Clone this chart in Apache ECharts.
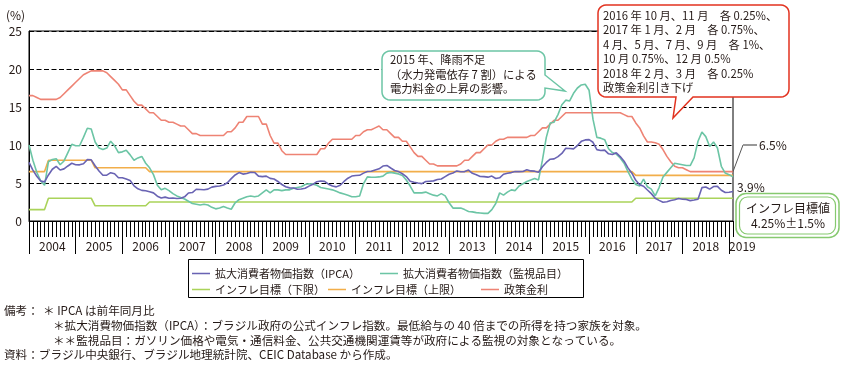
<!DOCTYPE html>
<html><head><meta charset="utf-8">
<script src="https://cdn.jsdelivr.net/npm/echarts@6/dist/echarts.min.js"></script>
<style>html,body{margin:0;padding:0;background:#fff}#c{width:845px;height:367px}</style>
</head><body><div id="c"></div>
<script>
const FONT = '"Noto Sans CJK JP", "Noto Sans", sans-serif';
const TXT = '#231815';

// Tick labels (years) and monthly categories (Jan 2004 .. Feb 2019)
const years = ['2004','2005','2006','2007','2008','2009','2010','2011','2012','2013','2014','2015','2016','2017','2018','2019'];
const lastMonth = '2019-02';
const months = [];
for (const y of years) { for (let m = 1; m <= 12; m++) { const k = y + '-' + String(m).padStart(2, '0'); if (k <= lastMonth) months.push(k); } }

// Series values (%, y/y), one line per year
const ipca = [
  7.71,6.69,5.89,5.26,5.15,6.06,6.81,7.18,6.71,6.86,7.24,7.60,
  7.41,7.39,7.54,8.07,8.05,7.27,6.57,6.02,6.04,6.36,6.22,5.69,
  5.70,5.51,5.32,4.63,4.23,4.03,3.97,3.84,3.70,3.26,3.02,3.14,
  2.99,3.02,2.96,3.00,3.18,3.69,3.74,4.18,4.15,4.12,4.19,4.46,
  4.56,4.61,4.73,5.04,5.58,6.06,6.37,6.17,6.25,6.41,6.39,5.90,
  5.84,5.90,5.61,5.53,5.20,4.80,4.50,4.36,4.34,4.17,4.22,4.31,
  4.59,4.83,5.17,5.26,5.22,4.84,4.60,4.49,4.70,5.20,5.63,5.91,
  5.99,6.01,6.30,6.51,6.55,6.71,6.87,7.23,7.31,6.97,6.64,6.50,
  6.22,5.85,5.24,5.10,4.99,4.92,5.20,5.24,5.28,5.45,5.53,5.84,
  6.15,6.31,6.59,6.49,6.50,6.70,6.27,6.09,5.86,5.84,5.77,5.91,
  5.59,5.68,6.15,6.28,6.37,6.52,6.50,6.51,6.75,6.59,6.56,6.41,
  7.14,7.70,8.13,8.17,8.47,8.89,9.56,9.53,9.49,9.93,10.48,10.67,
  10.71,10.36,9.39,9.28,9.32,8.84,8.74,8.97,8.48,7.87,6.99,6.29,
  5.35,4.76,4.57,4.08,3.60,3.00,2.71,2.46,2.54,2.70,2.80,2.95,
  2.86,2.84,2.68,2.76,2.86,4.39,4.48,4.19,4.53,4.56,4.05,3.75,
  3.78,3.89
];
const monitored = [
  10.0,8.0,6.4,5.3,4.7,7.8,8.1,8.2,7.4,7.9,9.0,10.1,
  9.9,9.9,11.0,12.2,12.1,10.4,9.6,9.4,9.6,10.5,9.9,9.0,
  9.1,9.3,8.7,8.0,8.3,8.5,7.6,7.0,6.1,4.7,4.1,4.3,
  4.0,3.6,3.3,3.1,2.9,2.6,2.3,2.2,2.1,2.2,2.1,1.8,
  1.6,1.7,1.9,1.7,1.55,2.4,2.8,3.0,3.2,3.3,3.2,3.3,
  3.7,4.1,3.7,4.1,4.1,4.0,4.1,4.1,4.3,4.4,4.5,4.8,
  4.9,4.85,4.7,4.4,4.3,4.2,4.1,3.9,3.7,3.55,3.4,3.2,
  3.2,3.3,4.9,5.8,5.75,5.75,5.8,5.9,6.3,6.4,6.3,6.2,
  6.0,5.4,4.6,3.7,3.7,3.7,3.8,3.6,3.4,3.3,3.6,3.3,
  2.4,1.7,1.7,1.7,1.5,1.25,1.2,1.1,1.05,1.0,1.0,1.5,
  2.3,3.7,3.4,3.8,4.1,4.0,4.6,4.9,5.2,5.4,5.6,5.4,
  8.0,11.0,12.9,13.0,14.0,15.3,15.9,15.8,16.8,17.5,17.9,18.0,
  17.2,13.4,11.0,10.9,10.7,9.5,9.0,8.8,8.3,7.6,6.5,5.5,
  4.8,4.6,5.5,4.5,4.2,3.3,4.4,5.8,6.4,7.0,7.6,7.5,
  7.4,7.3,7.3,8.3,10.5,11.7,11.1,9.8,10.4,9.6,7.2,6.3,
  6.1,5.8
];
const targetLow = [
  1.5,1.5,1.5,1.5,1.5,3,3,3,3,3,3,3,
  3,3,3,3,3,2,2,2,2,2,2,2,
  2,2,2,2,2,2,2,2.5,2.5,2.5,2.5,2.5,
  2.5,2.5,2.5,2.5,2.5,2.5,2.5,2.5,2.5,2.5,2.5,2.5,
  2.5,2.5,2.5,2.5,2.5,2.5,2.5,2.5,2.5,2.5,2.5,2.5,
  2.5,2.5,2.5,2.5,2.5,2.5,2.5,2.5,2.5,2.5,2.5,2.5,
  2.5,2.5,2.5,2.5,2.5,2.5,2.5,2.5,2.5,2.5,2.5,2.5,
  2.5,2.5,2.5,2.5,2.5,2.5,2.5,2.5,2.5,2.5,2.5,2.5,
  2.5,2.5,2.5,2.5,2.5,2.5,2.5,2.5,2.5,2.5,2.5,2.5,
  2.5,2.5,2.5,2.5,2.5,2.5,2.5,2.5,2.5,2.5,2.5,2.5,
  2.5,2.5,2.5,2.5,2.5,2.5,2.5,2.5,2.5,2.5,2.5,2.5,
  2.5,2.5,2.5,2.5,2.5,2.5,2.5,2.5,2.5,2.5,2.5,2.5,
  2.5,2.5,2.5,2.5,2.5,2.5,2.5,2.5,2.5,2.5,2.5,2.5,
  3,3,3,3,3,3,3,3,3,3,3,3,
  3,3,3,3,3,3,3,3,3,3,3,3,
  3,3
];
const targetHigh = [
  6.5,6.5,6.5,6.5,6.5,8,8,8,8,8,8,8,
  8,8,8,8,8,7,7,7,7,7,7,7,
  7,7,7,7,7,7,7,6.5,6.5,6.5,6.5,6.5,
  6.5,6.5,6.5,6.5,6.5,6.5,6.5,6.5,6.5,6.5,6.5,6.5,
  6.5,6.5,6.5,6.5,6.5,6.5,6.5,6.5,6.5,6.5,6.5,6.5,
  6.5,6.5,6.5,6.5,6.5,6.5,6.5,6.5,6.5,6.5,6.5,6.5,
  6.5,6.5,6.5,6.5,6.5,6.5,6.5,6.5,6.5,6.5,6.5,6.5,
  6.5,6.5,6.5,6.5,6.5,6.5,6.5,6.5,6.5,6.5,6.5,6.5,
  6.5,6.5,6.5,6.5,6.5,6.5,6.5,6.5,6.5,6.5,6.5,6.5,
  6.5,6.5,6.5,6.5,6.5,6.5,6.5,6.5,6.5,6.5,6.5,6.5,
  6.5,6.5,6.5,6.5,6.5,6.5,6.5,6.5,6.5,6.5,6.5,6.5,
  6.5,6.5,6.5,6.5,6.5,6.5,6.5,6.5,6.5,6.5,6.5,6.5,
  6.5,6.5,6.5,6.5,6.5,6.5,6.5,6.5,6.5,6.5,6.5,6.5,
  6,6,6,6,6,6,6,6,6,6,6,6,
  6,6,6,6,6,6,6,6,6,6,6,6,
  6,6
];
const selic = [
  16.5,16.5,16.25,16,16,16,16,16,16.25,16.75,17.25,17.75,
  18.25,18.75,19.25,19.5,19.75,19.75,19.75,19.75,19.5,19,18.5,18,
  17.25,17.25,16.5,15.75,15.25,15.25,14.75,14.25,14.25,13.75,13.25,13.25,
  13,13,12.75,12.5,12.5,12,11.5,11.5,11.25,11.25,11.25,11.25,
  11.25,11.25,11.25,11.75,11.75,12.25,13,13,13.75,13.75,13.75,13.75,
  12.75,12.75,11.25,10.25,10.25,9.25,8.75,8.75,8.75,8.75,8.75,8.75,
  8.75,8.75,8.75,9.5,9.5,10.25,10.75,10.75,10.75,10.75,10.75,10.75,
  11.25,11.25,11.75,12,12,12.25,12.5,12,12,11.5,11,11,
  10.5,10.5,9.75,9,8.5,8.5,8,7.5,7.5,7.25,7.25,7.25,
  7.25,7.25,7.25,7.5,8,8,8.5,9,9,9.5,10,10,
  10.5,10.75,10.75,11,11,11,11,11,11,11.25,11.25,11.75,
  12.25,12.25,12.75,13.25,13.25,13.75,14.25,14.25,14.25,14.25,14.25,14.25,
  14.25,14.25,14.25,14.25,14.25,14.25,14.25,14.25,14.25,14,13.75,13.75,
  12.9,12.25,11.2,10.4,10.4,10.3,10.1,9.4,8.5,7.8,7.2,7.0,
  7.0,6.75,6.5,6.5,6.5,6.5,6.5,6.5,6.5,6.5,6.5,6.5,
  6.5,6.5
];
const yTicks = [0, 5, 10, 15, 20, 25];

const N_IPCA = '拡大消費者物価指数（IPCA）';
const N_MON = '拡大消費者物価指数（監視品目）';
const N_LOW = 'インフレ目標（下限）';
const N_UP = 'インフレ目標（上限）';
const N_SEL = '政策金利';
const C_IPCA = '#6963b3', C_MON = '#6cc5a5', C_LOW = '#aad35a', C_UP = '#f2ae4a', C_SEL = '#ee8374';

const chart = echarts.init(document.getElementById('c'), null, { renderer: 'canvas' });

const lineSeries = (name, data, color, z) => ({
  name, type: 'line', data, xAxisIndex: 0, yAxisIndex: 0,
  symbol: 'none', showSymbol: false, smooth: false, z,
  lineStyle: { color, width: 1.6 }, itemStyle: { color },
  emphasis: { disabled: true }, silent: true
});

const legendItem = (name, left, top) => ({
  data: [name], left, top, padding: 0, itemWidth: 18, itemHeight: 8,
  icon: 'path://M0,0H20V1.7H0Z', selectedMode: false,
  textStyle: { fontSize: 11, color: TXT, fontFamily: FONT }
});

const labelData = months.map((m, i) => i === 180 ? { value: m, textStyle: { align: 'left' } } : m);

const noteStyle = { fontSize: 11.6, fill: TXT, fontFamily: FONT, verticalAlign: 'middle' };

chart.setOption({
  animation: false,
  textStyle: { fontFamily: FONT },
  grid: { left: 29, right: 112, top: 31, bottom: 146, show: true, borderColor: '#000', borderWidth: 1, backgroundColor: 'transparent' },
  xAxis: [
    { type: 'category', data: months, boundaryGap: false, position: 'bottom', offset: 0,
      axisLine: { show: true, lineStyle: { color: '#000', width: 1 } },
      axisTick: { show: true, interval: 0, length: 16, lineStyle: { color: '#000', width: 1 } },
      axisLabel: { show: false }, splitLine: { show: false } },
    { type: 'category', data: labelData, boundaryGap: false, position: 'bottom', offset: 0,
      axisLine: { show: false },
      axisTick: { show: true, interval: (i) => i % 12 === 0, length: 33, lineStyle: { color: '#000', width: 1 } },
      axisLabel: { show: true, interval: (i) => i % 12 === 6 || i === 180, formatter: (v) => v.slice(0, 4),
        fontSize: 12, color: TXT, margin: 19, fontFamily: FONT },
      splitLine: { show: false } }
  ],
  yAxis: {
    type: 'value', min: yTicks[0], max: yTicks[yTicks.length - 1], interval: 5,
    axisLine: { show: true, lineStyle: { color: '#000', width: 1 } },
    axisTick: { show: false },
    axisLabel: { fontSize: 12, color: TXT, margin: 7, fontFamily: FONT },
    splitLine: { show: true, lineStyle: { color: '#000', width: 1, type: [5, 2.5] } }
  },
  legend: [
    legendItem(N_IPCA, 192, 268),
    legendItem(N_MON, 380, 268),
    legendItem(N_LOW, 192, 284),
    legendItem(N_UP, 328, 284),
    legendItem(N_SEL, 481, 284)
  ],
  series: [
    lineSeries(N_IPCA, ipca, C_IPCA, 5),
    lineSeries(N_MON, monitored, C_MON, 4),
    lineSeries(N_LOW, targetLow, C_LOW, 3),
    lineSeries(N_UP, targetHigh, C_UP, 3),
    lineSeries(N_SEL, selic, C_SEL, 2)
  ]
});

// rounded-rectangle outline with a speech-bubble tail (annotation shape)
function bubble(x, y, w, h, r, rightTail, bottomTail) {
  const pts = [];
  const arc = (cx, cy, a0, a1) => { for (let k = 0; k <= 6; k++) { const a = (a0 + (a1 - a0) * k / 6) * Math.PI / 180; pts.push([cx + r * Math.cos(a), cy + r * Math.sin(a)]); } };
  arc(x + w - r, y + r, 270, 360);
  if (rightTail) rightTail.forEach(p => pts.push(p));
  arc(x + w - r, y + h - r, 0, 90);
  if (bottomTail) bottomTail.forEach(p => pts.push(p));
  arc(x + r, y + h - r, 90, 180);
  arc(x + r, y + r, 180, 270);
  return pts;
}

const endSel = chart.convertToPixel({ xAxisIndex: 0, yAxisIndex: 0 }, [months[months.length - 1], selic[selic.length - 1]]);
const endIpca = chart.convertToPixel({ xAxisIndex: 0, yAxisIndex: 0 }, [months[months.length - 1], ipca[ipca.length - 1]]);

chart.setOption({
  graphic: [
    { type: 'text', x: 6, y: 9, style: { text: '(%)', fontSize: 12, fill: TXT, fontFamily: FONT } },
    // legend frame
    { type: 'rect', shape: { x: 188.5, y: 259.5, width: 395, height: 38 }, style: { fill: 'none', stroke: '#000', lineWidth: 1 }, z: 50 },
    // 2015 callout
    { type: 'polygon', z: 100, shape: { points: bubble(382, 51, 163, 49, 8, [[545, 75], [565, 91], [545, 88]], null) },
      style: { fill: '#fff', stroke: '#6cc5a5', lineWidth: 1.5 } },
    { type: 'text', z: 101, x: 390, y: 53, style: { text: '2015 年、降雨不足\n（水力発電依存 7 割）による\n電力料金の上昇の影響。', fontSize: 11.3, lineHeight: 14.2, fill: TXT, fontFamily: FONT } },
    // policy-rate callout
    { type: 'polygon', z: 100, shape: { points: bubble(598, 5, 191, 92, 8, null, [[693, 97], [673, 118], [676, 97]]) },
      style: { fill: '#fff', stroke: '#e2321f', lineWidth: 1.5 } },
    { type: 'text', z: 101, x: 603, y: 8, style: { text: '2016 年 10 月、11 月　各 0.25%、\n2017 年 1 月、2 月　各 0.75%、\n4 月、5 月、7 月、9 月　各 1%、\n10 月 0.75%、12 月 0.5%\n2018 年 2 月、3 月　各 0.25%\n政策金利引き下げ',
      fontSize: 11.3, lineHeight: 14.5, fill: TXT, fontFamily: FONT } },
    // inflation target box (double border)
    { type: 'rect', z: 100, shape: { x: 736, y: 193.5, width: 103, height: 44, r: 10 }, style: { fill: '#fff', stroke: '#86c96f', lineWidth: 1.5 } },
    { type: 'rect', z: 101, shape: { x: 739.5, y: 197, width: 96, height: 37, r: 8 }, style: { fill: '#fff', stroke: '#86c96f', lineWidth: 1.2 } },
    { type: 'text', z: 102, x: 788, y: 216, style: { text: 'インフレ目標値\n4.25%±1.5%', fontSize: 12, lineHeight: 14.5, fill: TXT, fontFamily: FONT, align: 'center', verticalAlign: 'middle' } },
    // end-value labels
    { type: 'line', z: 100, shape: { x1: endSel[0], y1: endSel[1], x2: 743, y2: 145 }, style: { stroke: '#555', lineWidth: 1 } },
    { type: 'line', z: 100, shape: { x1: 743, y1: 145, x2: 757, y2: 145 }, style: { stroke: '#999', lineWidth: 2 } },
    { type: 'text', z: 100, x: 759, y: 145, style: { text: '6.5%', fontSize: 12, fill: TXT, fontFamily: FONT, verticalAlign: 'middle' } },
    { type: 'text', z: 100, x: 737, y: endIpca[1] - 4, style: { text: '3.9%', fontSize: 12, fill: TXT, fontFamily: FONT, verticalAlign: 'middle' } },
    // notes
    { type: 'text', x: 4, y: 311, style: Object.assign({ text: '備考：' }, noteStyle) },
    { type: 'text', x: 43, y: 311, style: Object.assign({ text: '＊ IPCA は前年同月比' }, noteStyle) },
    { type: 'text', x: 53, y: 326, style: Object.assign({ text: '＊拡大消費物価指数（IPCA）：ブラジル政府の公式インフレ指数。最低給与の 40 倍までの所得を持つ家族を対象。' }, noteStyle) },
    { type: 'text', x: 53, y: 341, style: Object.assign({ text: '＊＊監視品目：ガソリン価格や電気・通信料金、公共交通機関運賃等が政府による監視の対象となっている。' }, noteStyle) },
    { type: 'text', x: 4, y: 355, style: Object.assign({ text: '資料：ブラジル中央銀行、ブラジル地理統計院、CEIC Database から作成。' }, noteStyle) }
  ]
});
</script>
</body></html>
